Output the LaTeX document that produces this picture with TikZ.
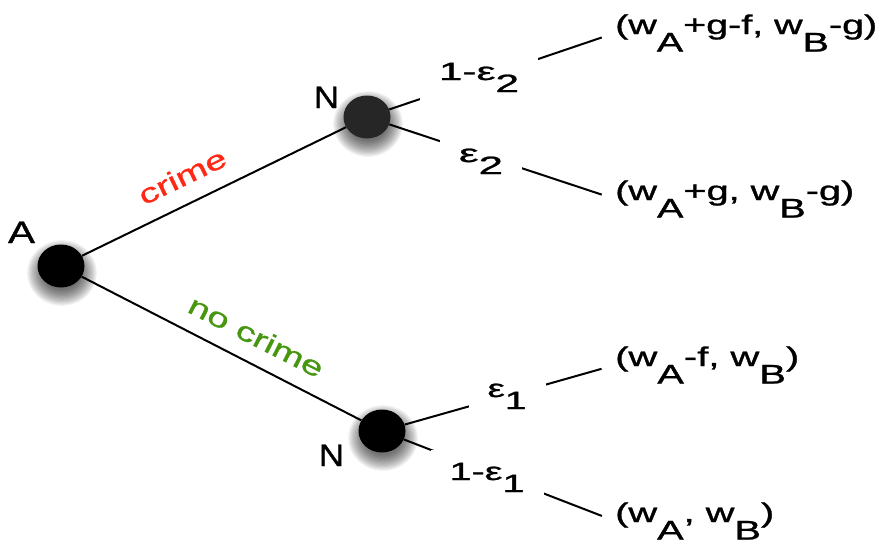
\documentclass[tikz,border=0pt]{standalone}
\usepackage{fontspec}
\setmainfont{Liberation Sans}[FakeBold=1]
\newfontfamily\stretchfont{Liberation Sans}[FakeStretch=1.43, FakeBold=1]
\usepackage{graphicx}
\usetikzlibrary{shapes.geometric}
\definecolor{crimered}{RGB}{255,40,20}
\definecolor{nogreen}{RGB}{70,150,15}
\definecolor{nodegray}{RGB}{38,38,38}
\newcommand\wbox[2]{\resizebox{#1pt}{\height}{#2}}
\newcommand\lsub[1]{\raisebox{-0.48em}{#1}}
\newcommand\psub[1]{\raisebox{-0.65em}{#1}}
\newcommand\ballshadow[1]{%
  \foreach \k in {1,...,14}{%
    \fill[black,opacity=0.055,shift={(#1)}] (1,7) ellipse ({18+\k*1.2} and {16+\k*1.2});}}
\begin{document}
\begin{tikzpicture}[x=1pt,y=-1pt,
  ball/.style={ellipse, minimum width=47pt, minimum height=43pt, inner sep=0pt, fill=black},
  edge/.style={line width=2pt, black},
  prob/.style={anchor=base, fill=white, inner xsep=19pt, inner ysep=13pt, font=\fontsize{25}{30}\selectfont},
  pay/.style={anchor=base west, inner sep=0pt, font=\fontsize{27}{32}\selectfont},
  who/.style={anchor=base, inner sep=0pt, font=\fontsize{31}{36}\selectfont},
  act/.style={anchor=base, inner sep=0pt, font=\stretchfont\fontsize{27}{32}\selectfont}]
\useasboundingbox (0,0) rectangle (885,547);
\coordinate (cA) at (61,266);
\coordinate (cNt) at (367,117);
\coordinate (cNb) at (382,431);
% shadows
\ballshadow{cA}
\ballshadow{cNt}
\ballshadow{cNb}
% decision nodes
\node[ball] (A) at (cA) {};
\node[ball, fill=nodegray] (Nt) at (cNt) {};
\node[ball] (Nb) at (cNb) {};
% player labels
\node[who] (lA) at (21.5,243) {\wbox{27}{A}};
\node[who] (lNt) at (326.5,108) {\wbox{25}{N}};
\node[who] (lNb) at (331.5,466) {\wbox{25}{N}};
% payoffs
\node[pay] (p1) at (615,34) {\wbox{262}{(w\psub{A}+g-f, w\psub{B}-g)}};
\node[pay] (p2) at (615,200) {\wbox{239}{(w\psub{A}+g, w\psub{B}-g)}};
\node[pay] (p3) at (615,366) {\wbox{184}{(w\psub{A}-f, w\psub{B})}};
\node[pay] (p4) at (615,522) {\wbox{159}{(w\psub{A}, w\psub{B})}};
% edges
\draw[edge] (A) -- (Nt);
\draw[edge] (A) -- (Nb);
\draw[edge, shorten >=14pt] (Nt) -- (p1.west);
\draw[edge, shorten >=14pt] (Nt) -- (p2.west);
\draw[edge, shorten >=14pt] (Nb) -- (p3.west);
\draw[edge, shorten >=14pt] (Nb) -- (p4.west);
% action labels
\node[act, rotate=26, text=crimered] (crime) at (186.5,185) {crime};
\node[act, rotate=-27, text=nogreen] (nocrime) at (252,345) {no crime};
% probability labels
\node[prob] (q1) at (479,80) {\wbox{80}{1-ε\lsub{2}}};
\node[prob] (q2) at (481,162) {\wbox{44}{ε\lsub{2}}};
\node[prob] (q3) at (507,397) {\wbox{39}{ε\lsub{1}}};
\node[prob] (q4) at (487,480) {\wbox{75}{1-ε\lsub{1}}};
\end{tikzpicture}
\end{document}
